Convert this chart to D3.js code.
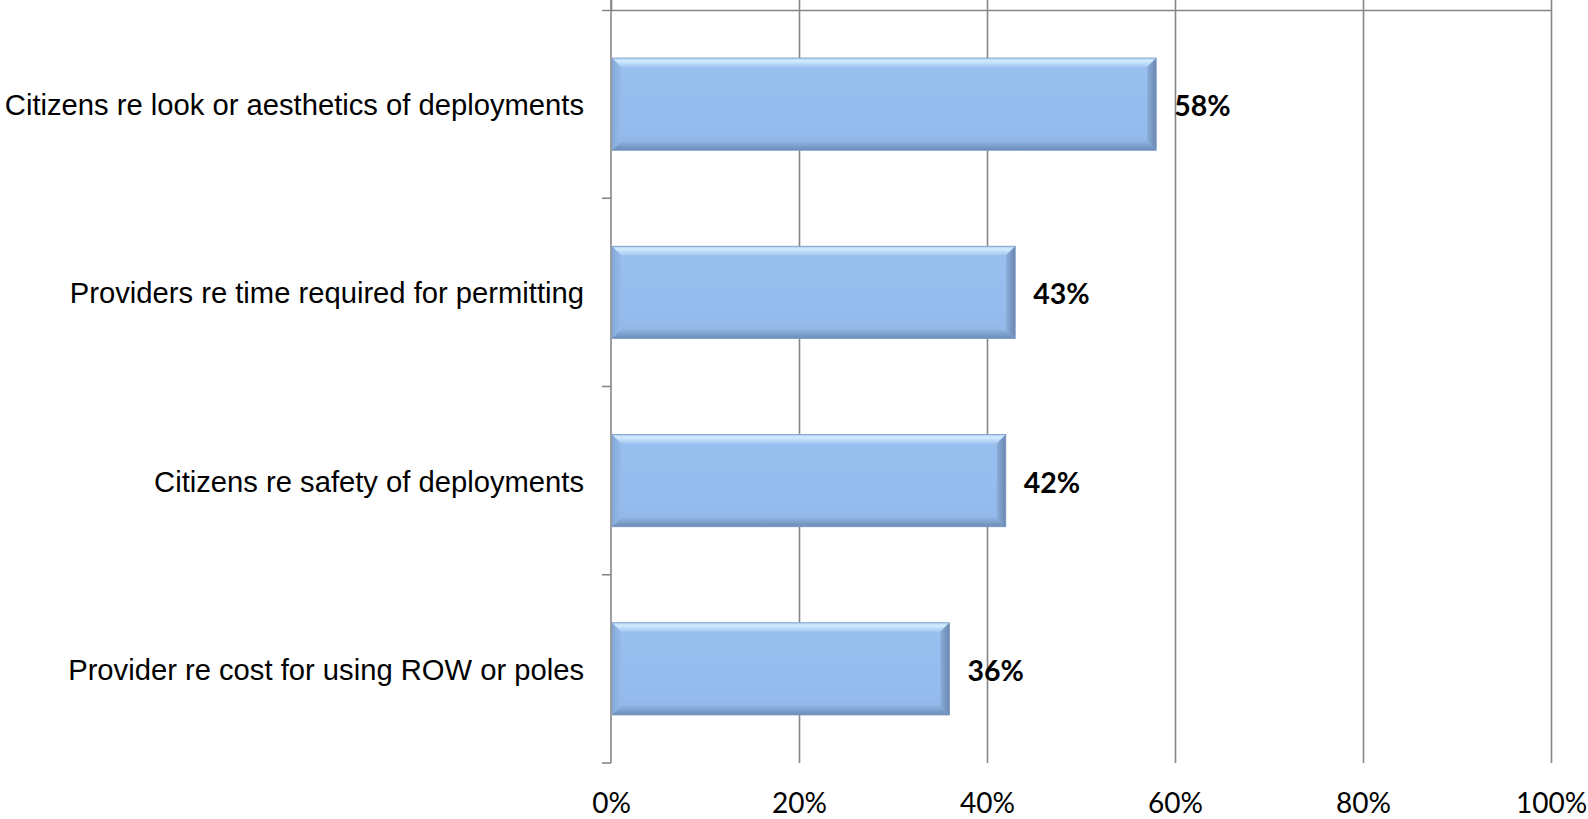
<!DOCTYPE html>
<html>
<head>
<meta charset="utf-8">
<script src="https://cdn.jsdelivr.net/npm/d3@7"></script>
<style>
  html, body { margin: 0; padding: 0; background: #fff; }
  svg { display: block; }
</style>
</head>
<body>
<svg id="chart" width="1588" height="819"></svg>
<script>
// Survey responses: share of respondents reporting each concern
const categories = [
  "Citizens re look or aesthetics of deployments",
  "Providers re time required for permitting",
  "Citizens re safety of deployments",
  "Provider re cost for using ROW or poles"
];
const values = [0.58, 0.43, 0.42, 0.36];
const valueLabels = ["58%", "43%", "42%", "36%"];
const tickValues = [0, 0.2, 0.4, 0.6, 0.8, 1.0];
const tickLabels = ["0%", "20%", "40%", "60%", "80%", "100%"];

const svg = d3.select("#chart");
const plot = { left: 611, right: 1551, top: 10, bottom: 763 };
const axisColor = "#868686";

const x = d3.scaleLinear().domain([0, 1]).range([plot.left, plot.right]);
const y = d3.scaleBand().domain(categories)
  .range([plot.top, plot.bottom])
  .paddingInner(0.51).paddingOuter(0.255);

// Gradients for the bevelled bar edges
const defs = svg.append("defs");
function grad(id, x1, y1, x2, y2, stops) {
  const g = defs.append("linearGradient").attr("id", id)
    .attr("x1", x1).attr("y1", y1).attr("x2", x2).attr("y2", y2);
  stops.forEach(s => g.append("stop").attr("offset", s[0]).attr("stop-color", s[1]));
}
grad("bevTop", 0, 0, 0, 1, [[0, "#a9cdf3"], [0.3, "#d3ecfd"], [1, "#a4c7f2"]]);
grad("bevBottom", 0, 0, 0, 1, [[0, "#8fb4e2"], [1, "#6d8cb7"]]);
grad("bevLeft", 0, 0, 1, 0, [[0, "#86a9d6"], [1, "#95bbec"]]);
grad("bevRight", 0, 0, 1, 0, [[0, "#8aaed9"], [1, "#6a87b0"]]);
grad("barFace", 0, 0, 0, 1, [[0, "#9ac0f0"], [0.8, "#95bbed"], [1, "#8fb3e2"]]);

// Vertical gridlines
svg.append("g")
  .attr("transform", `translate(0,${plot.bottom})`)
  .call(d3.axisBottom(x).tickValues(tickValues.slice(1)).tickSize(-(plot.bottom - plot.top)).tickFormat(""))
  .call(g => g.select(".domain").remove())
  .call(g => g.selectAll(".tick line").attr("stroke", axisColor).attr("stroke-width", 1.6));

// Value axis along the top, ticks pointing outward
svg.append("g")
  .attr("transform", `translate(0,${plot.top})`)
  .call(d3.axisTop(x).tickValues(tickValues).tickSize(10).tickSizeOuter(0).tickFormat(""))
  .call(g => g.select(".domain").attr("stroke", axisColor).attr("stroke-width", 1.6)
      .attr("d", `M${plot.left - 9},0.5H${plot.right}`))
  .call(g => g.selectAll(".tick line").attr("stroke", axisColor).attr("stroke-width", 1.6));

// Value tick labels below the plot
svg.append("g")
  .attr("transform", `translate(0,${plot.bottom})`)
  .call(d3.axisBottom(x).tickValues(tickValues).tickSize(0).tickPadding(0)
    .tickFormat((d, i) => tickLabels[i]))
  .call(g => g.select(".domain").remove())
  .call(g => g.selectAll(".tick text")
    .attr("dy", 0).attr("y", 50)
    .attr("fill", "#000")
    .style("font-family", "Lato, 'Open Sans', sans-serif")
    .style("font-size", "28px"));

// Category axis on the left with boundary ticks
const boundaries = categories.map(c => y(c) - y.step() * y.paddingInner() / 2);
boundaries.push(plot.bottom);
boundaries[0] = plot.top;
const catAxis = svg.append("g");
catAxis.append("line")
  .attr("x1", plot.left).attr("x2", plot.left)
  .attr("y1", plot.top - 10).attr("y2", plot.bottom)
  .attr("stroke", axisColor).attr("stroke-width", 1.6);
catAxis.selectAll("line.tk").data(boundaries.slice(1)).join("line")
  .attr("class", "tk")
  .attr("x1", plot.left - 9).attr("x2", plot.left)
  .attr("y1", d => d).attr("y2", d => d)
  .attr("stroke", axisColor).attr("stroke-width", 1.6);

catAxis.selectAll("text").data(categories).join("text")
  .attr("x", 584)
  .attr("y", d => y(d) + y.bandwidth() / 2 + 11)
  .attr("text-anchor", "end")
  .style("font-family", "'Liberation Sans', Arial, sans-serif")
  .style("font-size", "29.2px")
  .attr("fill", "#000")
  .text(d => d);

// Bars with bevelled edges
const bev = 9;
const bars = svg.append("g").selectAll("g.bar")
  .data(categories.map((c, i) => ({ c, v: values[i], label: valueLabels[i] })))
  .join("g").attr("class", "bar");

bars.each(function (d) {
  const g = d3.select(this);
  const x0 = x(0) + 1, x1 = x(d.v);
  const y0 = y(d.c), y1 = y(d.c) + y.bandwidth();
  g.append("rect").attr("x", x0).attr("y", y0)
    .attr("width", x1 - x0).attr("height", y1 - y0)
    .attr("fill", "url(#barFace)");
  const poly = pts => pts.map(p => p.join(",")).join(" ");
  g.append("polygon").attr("fill", "url(#bevTop)")
    .attr("points", poly([[x0, y0], [x1, y0], [x1 - bev, y0 + bev], [x0 + bev, y0 + bev]]));
  g.append("polygon").attr("fill", "url(#bevBottom)")
    .attr("points", poly([[x0, y1], [x1, y1], [x1 - bev, y1 - bev], [x0 + bev, y1 - bev]]));
  g.append("polygon").attr("fill", "url(#bevLeft)")
    .attr("points", poly([[x0, y0], [x0 + bev, y0 + bev], [x0 + bev, y1 - bev], [x0, y1]]));
  g.append("polygon").attr("fill", "url(#bevRight)")
    .attr("points", poly([[x1, y0], [x1 - bev, y0 + bev], [x1 - bev, y1 - bev], [x1, y1]]));
  g.append("rect").attr("x", x0).attr("y", y0)
    .attr("width", x1 - x0).attr("height", y1 - y0)
    .attr("fill", "none").attr("stroke", "#7f9cc4").attr("stroke-width", 0.8);
  g.append("text")
    .attr("x", x1 + 18)
    .attr("y", y0 + y.bandwidth() / 2 + 12)
    .style("font-family", "Lato, 'Open Sans', sans-serif")
    .style("font-weight", "bold")
    .style("font-size", "28.5px")
    .attr("fill", "#000")
    .text(d.label);
});
</script>
</body>
</html>
